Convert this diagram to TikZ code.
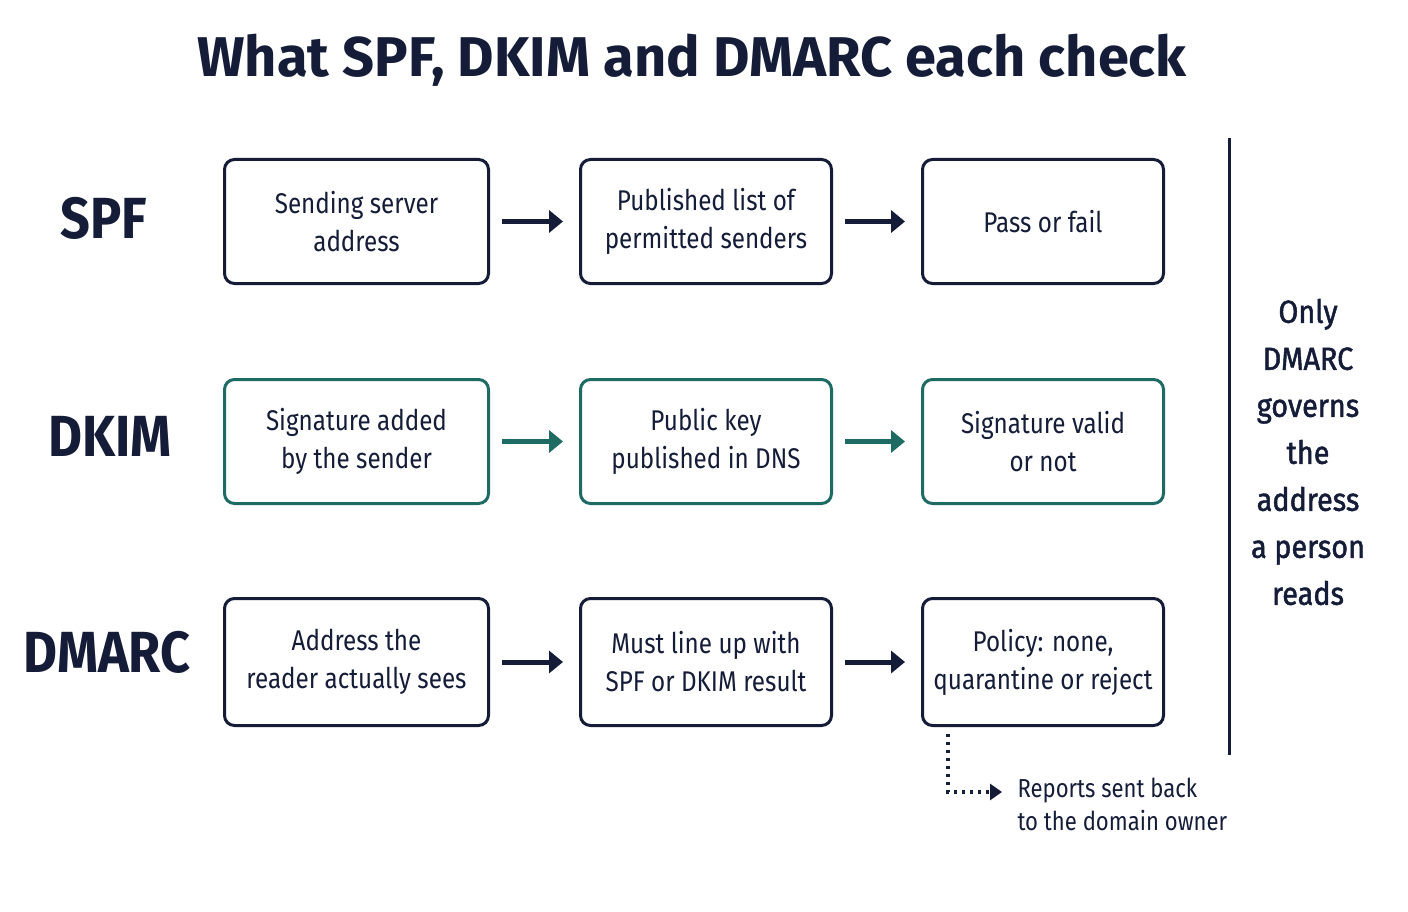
\documentclass[tikz,border=0pt]{standalone}
\usepackage{fontspec}
\setmainfont{Fira Sans}
\usetikzlibrary{arrows.meta}
\definecolor{navy}{HTML}{141C38}
\definecolor{teal}{HTML}{1D6B63}
\tikzset{
 box/.style={draw=navy,line width=3pt,rounded corners=10pt,align=center,font=\fontsize{28.5}{38}\selectfont\addfontfeature{FakeStretch=0.85},text=navy,anchor=north west},
 tbox/.style={box,draw=teal},
 arr/.style={-{Triangle[length=14pt,width=22pt]},line width=5pt,navy},
 tarr/.style={arr,teal},
 rowlab/.style={font=\fontsize{58}{60}\selectfont\bfseries\addfontfeature{FakeStretch=0.9},text=navy}
}
\begin{document}
\begin{tikzpicture}[x=1pt,y=-1pt]
\useasboundingbox[fill=white] (0,0) rectangle (1408,912);
\node[font=\fontsize{56}{60}\selectfont\bfseries,text=navy] (title) at (692,60) {What SPF, DKIM and DMARC each check};
\node[rowlab] (spf) at (104,218) {SPF};
\node[rowlab] (dkim) at (110,436) {DKIM};
\node[rowlab] (dmarc) at (107,652) {DMARC};
\node[box,minimum width=264pt,minimum height=124pt] (s1) at (223,158) {Sending server\\address};
\node[box,minimum width=251pt,minimum height=124pt] (s2) at (579,158) {Published list of\\permitted senders};
\node[box,minimum width=241pt,minimum height=124pt] (s3) at (921,158) {Pass or fail};
\node[tbox,minimum width=264pt,minimum height=124pt] (k1) at (223,378) {Signature added\\by the sender};
\node[tbox,minimum width=251pt,minimum height=124pt] (k2) at (579,378) {Public key\\published in DNS};
\node[tbox,minimum width=241pt,minimum height=124pt] (k3) at (921,378) {Signature valid\\or not};
\node[box,minimum width=264pt,minimum height=127pt] (d1) at (223,597) {Address the\\reader actually sees};
\node[box,minimum width=251pt,minimum height=127pt] (d2) at (579,597) {Must line up with\\SPF or DKIM result};
\node[box,minimum width=241pt,minimum height=127pt] (d3) at (921,597) {Policy: none,\\quarantine or reject};
\draw[arr] ([xshift=12pt]s1.east) -- ([xshift=-16pt]s2.west);
\draw[arr] ([xshift=12pt]s2.east) -- ([xshift=-16pt]s3.west);
\draw[tarr] ([xshift=12pt]k1.east) -- ([xshift=-16pt]k2.west);
\draw[tarr] ([xshift=12pt]k2.east) -- ([xshift=-16pt]k3.west);
\draw[arr] ([xshift=12pt]d1.east) -- ([xshift=-16pt]d2.west);
\draw[arr] ([xshift=12pt]d2.east) -- ([xshift=-16pt]d3.west);
\coordinate (vt) at (1229,138); \coordinate (vb) at (1229,755);
\draw[navy,line width=3pt] (vt) -- (vb);
\node[align=center,font=\fontsize{32}{47}\selectfont\addfontfeature{FakeStretch=0.9,FakeBold=1.5},text=navy] (only) at (1308,452) {Only\\DMARC\\governs\\the\\address\\a person\\reads};
\node[align=left,font=\fontsize{26}{33}\selectfont\addfontfeature{FakeStretch=0.85},text=navy,anchor=west] (rep) at (1014,804) {Reports sent back\\to the domain owner};
\coordinate (ds) at (948,734);
\draw[navy,line width=3.5pt,dash pattern=on 3pt off 5pt,-{Triangle[length=12pt,width=16pt]}] (ds) |- ([xshift=-12pt]rep.west |- 0,792);
\end{tikzpicture}
\end{document}
